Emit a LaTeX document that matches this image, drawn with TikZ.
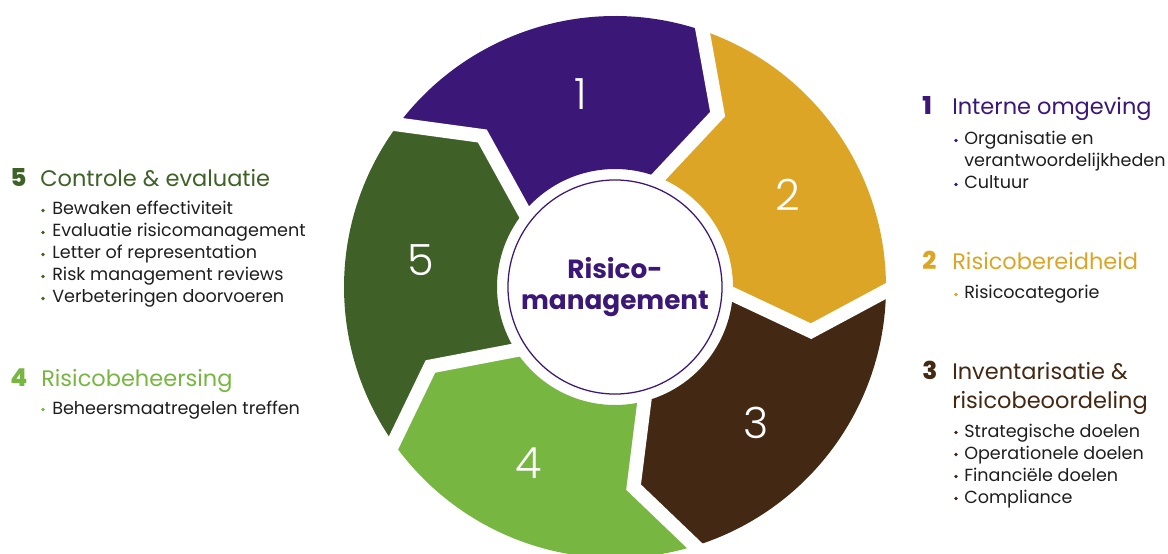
\documentclass[tikz,border=0pt]{standalone}
\usepackage{fontspec}
\setmainfont{Poppins}
\newfontfamily\licht{Poppins Light}
\newfontfamily\zwaar{Poppins ExtraBold}
\usetikzlibrary{positioning}

\definecolor{paars}{HTML}{3B1877}
\definecolor{goud}{HTML}{DDA526}
\definecolor{bruin}{HTML}{432913}
\definecolor{donkergroen}{HTML}{3F6127}
\definecolor{lichtgroen}{HTML}{78B642}
\definecolor{tekst}{HTML}{1E1E1E}

\tikzset{
  titel/.style={anchor=base west, inner sep=0pt, font=\fontsize{16}{18}\selectfont},
  nummer/.style={anchor=base west, inner sep=0pt, font=\zwaar\fontsize{17.5}{18}\selectfont},
  regel/.style={anchor=base west, inner sep=0pt, text=tekst, font=\fontsize{12.5}{14}\selectfont},
  ringnr/.style={text=white, font=\licht\fontsize{30.6}{32}\selectfont},
  spleet/.style={white, line width=0.35cm, line join=miter}
}

\begin{document}
\begin{tikzpicture}[x=0.025cm, y=0.025cm]
    \useasboundingbox (0,0) rectangle (1168,553);

    % Define the centre and the radii of the ring
    \def\Ruit{271}
    \def\Rmid{201}
    \def\Rin{118}

    \begin{scope}[shift={(615,266)}]
        % Draw the five arrow segments
        \foreach \kleur [count=\k] in {paars,goud,bruin,lichtgroen,donkergroen} {
            \pgfmathsetmacro\f{72.5-72*(\k-1)}
            \pgfmathsetmacro\b{\f+72}
            \fill[\kleur] ({\b}:\Ruit) -- ({\b-13.2}:\Rmid) -- ({\b-1.5}:\Rin)
                arc[start angle=\b-1.5, end angle=\f-1.5, radius=\Rin]
                -- ({\f-13.2}:\Rmid) -- ({\f}:\Ruit)
                arc[start angle=\f, end angle=\b, radius=\Ruit] -- cycle;
        }
        % White gaps between the segments
        \foreach \k in {0,...,4} {
            \pgfmathsetmacro\a{72.5-72*\k}
            \draw[spleet] ({\a}:\Ruit+12) -- ({\a-13.2}:\Rmid) -- ({\a-1.5}:\Rin-12);
        }
        % Numbers in the ring
        \foreach \n in {1,...,5} {
            \pgfmathsetmacro\m{108.5-72*(\n-1)-8.5}
            \node[ringnr] (ring\n) at ({\m}:196) {\n};
        }
        % Centre circle
        \node[circle, draw=paars, line width=0.9pt, fill=white, minimum size=5.35cm,
              align=center, text=paars, font=\fontsize{18.7}{22}\selectfont\bfseries]
              (kern) at (0,0) {Risico-\\management};
    \end{scope}

    % Left column: step 5
    \node[nummer, text=donkergroen] (nr5) at (10,366) {5};
    \node[titel, text=donkergroen] (titel5) at (40,366) {Controle \& evaluatie};
    \foreach \tekst [count=\i] in {Bewaken effectiviteit, Evaluatie risicomanagement,
        Letter of representation, Risk management reviews, Verbeteringen doorvoeren} {
        \pgfmathsetmacro\y{338-22*(\i-1)}
        \node[regel] (punt5\i) at (52,\y) {\tekst};
        \fill[donkergroen] (43,\y+4.5) circle (1.8);
    }

    % Left column: step 4
    \node[nummer, text=lichtgroen] (nr4) at (10,167) {4};
    \node[titel, text=lichtgroen] (titel4) at (41,167) {Risicobeheersing};
    \node[regel] (punt41) at (52,139) {Beheersmaatregelen treffen};
    \fill[lichtgroen] (43,143.5) circle (1.8);

    % Right column: step 1
    \node[nummer, text=paars] (nr1) at (922,438) {1};
    \node[titel, text=paars] (titel1) at (952,438) {Interne omgeving};
    \node[regel] (punt11) at (964,408) {Organisatie en};
    \node[regel] (punt12) at (964,386) {verantwoordelijkheden};
    \node[regel] (punt13) at (964,364) {Cultuur};
    \fill[paars] (956,412.5) circle (1.8);
    \fill[paars] (956,368.5) circle (1.8);

    % Right column: step 2
    \node[nummer, text=goud] (nr2) at (922,283) {2};
    \node[titel, text=goud] (titel2) at (952,283) {Risicobereidheid};
    \node[regel] (punt21) at (964,254) {Risicocategorie};
    \fill[goud] (956,258.5) circle (1.8);

    % Right column: step 3
    \node[nummer, text=bruin] (nr3) at (922,174) {3};
    \node[titel, text=bruin] (titel3) at (952,174) {Inventarisatie \&};
    \node[titel, text=bruin] (titel3b) at (952,145) {risicobeoordeling};
    \foreach \tekst [count=\i] in {Strategische doelen, Operationele doelen,
        Financiële doelen, Compliance} {
        \pgfmathsetmacro\y{116-22*(\i-1)}
        \node[regel] (punt3\i) at (964,\y) {\tekst};
        \fill[bruin] (956,\y+4.5) circle (1.8);
    }
\end{tikzpicture}
\end{document}
